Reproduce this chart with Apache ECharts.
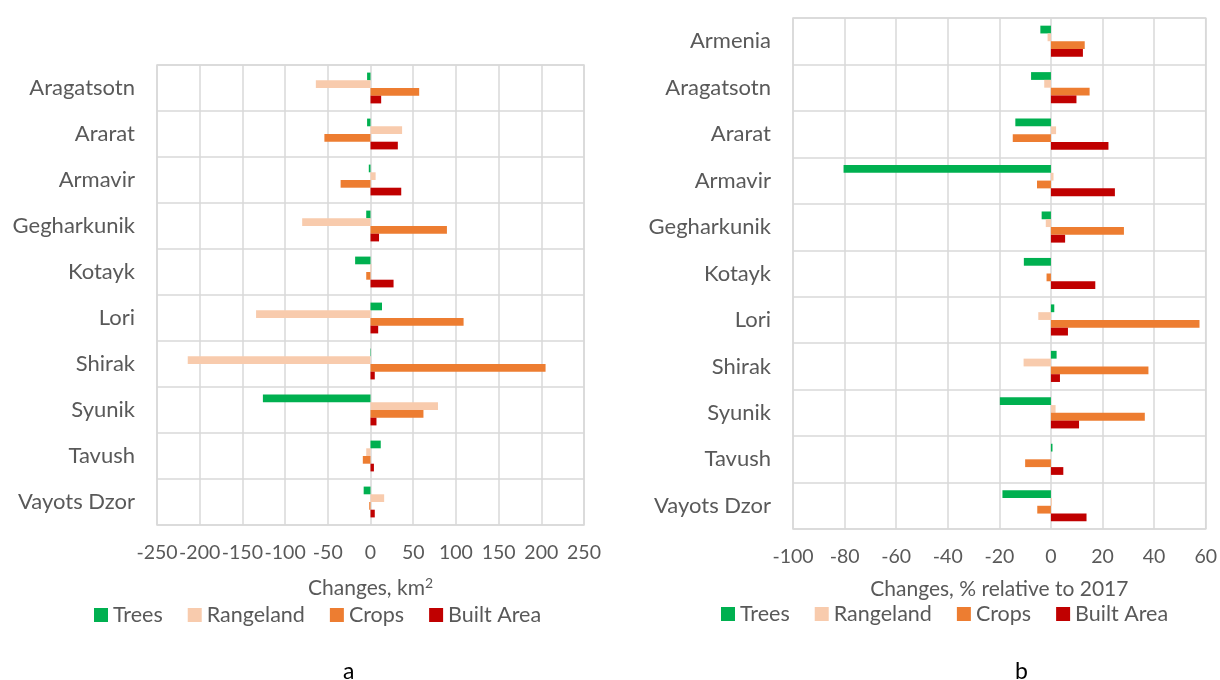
<!DOCTYPE html>
<html>
<head>
<meta charset="utf-8">
<script src="https://cdn.jsdelivr.net/npm/echarts@6/dist/echarts.min.js"></script>
<style>
html,body{margin:0;padding:0;background:#fff;}
#c{width:1220px;height:680px;}
</style>
</head>
<body>
<div id="c"></div>
<script>
// Panel a: changes in km2
const catsA = ['Aragatsotn','Ararat','Armavir','Gegharkunik','Kotayk','Lori','Shirak','Syunik','Tavush','Vayots Dzor'];
const treesA = [-4, -4, -2, -5, -18, 13.5, -0.5, -126, 12, -8];
const rangeA = [-64, 37, 6, -80, 1, -134, -214, 79, -5, 16];
const cropsA = [57, -54, -35, 89.5, -5, 109, 205, 62, -9, -1.5];
const builtA = [12.5, 32, 36, 10, 27, 9, 5, 7, 4, 5];
const ticksA = { min: -250, max: 250, interval: 50 };

// Panel b: changes in % relative to 2017
const catsB = ['Armenia','Aragatsotn','Ararat','Armavir','Gegharkunik','Kotayk','Lori','Shirak','Syunik','Tavush','Vayots Dzor'];
const treesB = [-4.1, -7.7, -13.8, -80.4, -3.6, -10.5, 1.3, 2.2, -19.8, 0.6, -18.8];
const rangeB = [-1.3, -2.6, 2, 1, -2, 0, -4.9, -10.6, 1.8, 0, 0.4];
const cropsB = [13.1, 15, -14.8, -5.4, 28.3, -1.7, 57.6, 37.8, 36.4, -10, -5.3];
const builtB = [12.4, 9.9, 22.3, 24.8, 5.5, 17.2, 6.6, 3.5, 10.9, 4.8, 13.8];
const ticksB = { min: -100, max: 60, interval: 20 };

const seriesNames = ['Trees','Rangeland','Crops','Built Area'];
const colors = ['#00b050','#f8cbad','#ed7d31','#c00000'];

const FONT = 'Lato, "Open Sans", sans-serif';
const TXT = '#595959';
const GRIDC = '#d9d9d9';

function xAxisCfg(idx, t, nameCfg, nameGap) {
  return {
    type: 'value', gridIndex: idx, min: t.min, max: t.max, interval: t.interval,
    axisLine: { show: false }, axisTick: { show: false },
    axisLabel: { color: TXT, fontSize: 19.5, fontFamily: FONT, margin: 18 },
    splitLine: { show: true, lineStyle: { color: GRIDC, width: 1.5 } },
    name: nameCfg, nameLocation: 'middle', nameGap: nameGap,
    nameTextStyle: {
      color: TXT, fontSize: 21, fontFamily: FONT,
      rich: {
        a: { color: TXT, fontSize: 21, fontFamily: FONT },
        sup: { color: TXT, fontSize: 14, fontFamily: FONT, verticalAlign: 'top', padding: [0,0,10,0] }
      }
    }
  };
}
function yAxisCfg(idx, cats) {
  return {
    type: 'category', gridIndex: idx, data: cats, inverse: true,
    axisLine: { show: false }, axisTick: { show: false },
    axisLabel: { color: TXT, fontSize: 22, fontFamily: FONT, margin: 22 },
    splitLine: { show: true, lineStyle: { color: GRIDC, width: 1.5 } }
  };
}
function mkSeries(idx, arrs) {
  return arrs.map((d, i) => ({
    name: seriesNames[i], type: 'bar', xAxisIndex: idx, yAxisIndex: idx,
    data: d, barGap: '0%', barCategoryGap: '33%',
    itemStyle: { color: colors[i] }, silent: true
  }));
}
function legendCfg(left, top) {
  return {
    data: seriesNames, left: left, top: top, icon: 'rect',
    itemWidth: 14, itemHeight: 14, itemGap: 25,
    textStyle: { color: TXT, fontSize: 21.5, fontFamily: FONT },
    selectedMode: false
  };
}

const chart = echarts.init(document.getElementById('c'), null, { renderer: 'canvas' });
chart.setOption({
  animation: false,
  backgroundColor: '#ffffff',
  grid: [
    { left: 157, top: 65, width: 427, height: 460, show: true, borderColor: GRIDC, borderWidth: 1.5, containLabel: false },
    { left: 793, top: 18, width: 415, height: 511, show: true, borderColor: GRIDC, borderWidth: 1.5, containLabel: false }
  ],
  xAxis: [
    xAxisCfg(0, ticksA, '{a|Changes, km}{sup|2}', 51),
    xAxisCfg(1, ticksB, 'Changes, % relative to 2017', 50)
  ],
  yAxis: [ yAxisCfg(0, catsA), yAxisCfg(1, catsB) ],
  legend: [ legendCfg(89, 599), legendCfg(716, 598) ],
  series: [].concat(
    mkSeries(0, [treesA, rangeA, cropsA, builtA]),
    mkSeries(1, [treesB, rangeB, cropsB, builtB])
  ),
  graphic: [
    { type: 'text', left: 343, top: 660, style: { text: 'a', fill: '#000', fontSize: 23, fontFamily: FONT } },
    { type: 'text', left: 1015, top: 660, style: { text: 'b', fill: '#000', fontSize: 23, fontFamily: FONT } }
  ]
});
</script>
</body>
</html>
